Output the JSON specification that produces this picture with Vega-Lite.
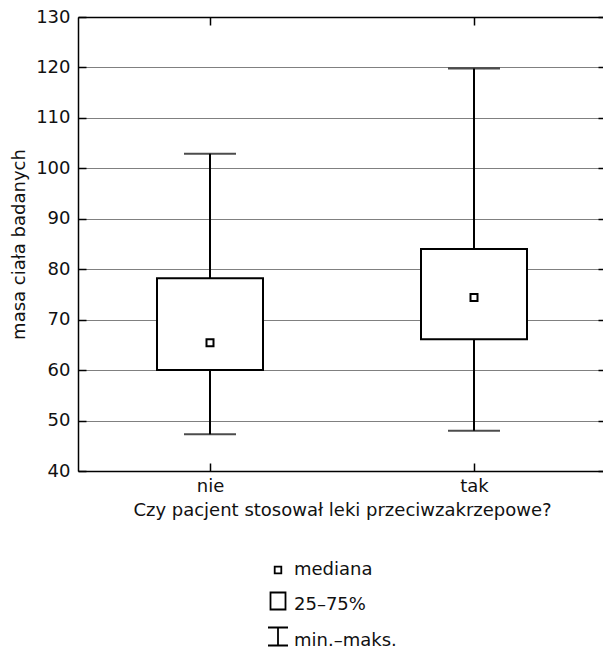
{
  "$schema": "https://vega.github.io/schema/vega-lite/v6.json",
  "width": 528,
  "height": 454,
  "autosize": {"type": "none"},
  "padding": {"left": 78, "top": 17, "right": -3, "bottom": 186},
  "background": "white",
  "config": {
    "view": {"stroke": null},
    "font": "DejaVu Sans",
    "axis": {
      "labelFont": "DejaVu Sans",
      "titleFont": "DejaVu Sans",
      "labelFontSize": 18,
      "titleFontSize": 18,
      "titleFontWeight": "normal",
      "labelColor": "#111",
      "titleColor": "#111",
      "domainColor": "black",
      "domainWidth": 1.5,
      "tickColor": "black",
      "tickWidth": 1.5,
      "gridColor": "#808080",
      "gridWidth": 1.2,
      "gridOpacity": 1
    },
    "legend": {
      "labelFont": "DejaVu Sans",
      "labelFontSize": 18,
      "labelColor": "#111"
    }
  },
  "datasets": {
    "boxes": [
      {"grupa": "nie", "min": 47.3, "q1": 60.0, "median": 65.4, "q3": 78.2, "max": 102.9},
      {"grupa": "tak", "min": 48.0, "q1": 66.1, "median": 74.4, "q3": 84.0, "max": 119.8}
    ],
    "legenda": [
      {"item": "mediana"},
      {"item": "25–75%"},
      {"item": "min.–maks."}
    ]
  },
  "resolve": {"axis": {"x": "independent", "y": "independent"}},
  "layer": [
    {
      "data": {"name": "boxes"},
      "mark": {"type": "rule", "color": "black", "strokeWidth": 2},
      "encoding": {
        "x": {
          "field": "grupa", "type": "nominal",
          "scale": {"type": "point", "domain": ["nie", "tak"], "padding": 0.5},
          "axis": {
            "orient": "bottom", "title": "Czy pacjent stosował leki przeciwzakrzepowe?",
            "labelAngle": 0, "tickSize": -8, "labelPadding": 14, "titlePadding": 6, "grid": false
          }
        },
        "y": {
          "field": "min", "type": "quantitative",
          "scale": {"domain": [40, 130], "nice": false, "zero": false},
          "axis": {
            "orient": "left", "title": "masa ciała badanych",
            "values": [40, 50, 60, 70, 80, 90, 100, 110, 120, 130],
            "tickSize": -8, "labelPadding": 16, "titlePadding": 7, "grid": true
          }
        },
        "y2": {"field": "max"}
      }
    },
    {
      "data": {"name": "boxes"},
      "mark": {"type": "bar", "fill": "white", "stroke": "black", "strokeWidth": 2, "size": 106},
      "encoding": {
        "x": {"field": "grupa", "type": "nominal", "axis": null},
        "y": {"field": "q1", "type": "quantitative", "axis": null},
        "y2": {"field": "q3"}
      }
    },
    {
      "data": {"name": "boxes"},
      "mark": {"type": "tick", "color": "black", "thickness": 2, "size": 52, "orient": "horizontal"},
      "encoding": {
        "x": {"field": "grupa", "type": "nominal", "axis": null},
        "y": {"field": "min", "type": "quantitative", "axis": null}
      }
    },
    {
      "data": {"name": "boxes"},
      "mark": {"type": "tick", "color": "black", "thickness": 2, "size": 52, "orient": "horizontal"},
      "encoding": {
        "x": {"field": "grupa", "type": "nominal", "axis": null},
        "y": {"field": "max", "type": "quantitative", "axis": null}
      }
    },
    {
      "data": {"name": "boxes"},
      "mark": {"type": "point", "shape": "square", "size": 49, "filled": false, "fill": "white", "fillOpacity": 1, "stroke": "black", "strokeWidth": 2, "opacity": 1},
      "encoding": {
        "x": {
          "field": "grupa", "type": "nominal",
          "axis": {"orient": "top", "title": null, "labels": false, "tickSize": -8, "grid": false}
        },
        "y": {
          "field": "median", "type": "quantitative",
          "axis": {"orient": "right", "title": null, "labels": false, "tickSize": -8, "grid": false,
                   "values": [40, 50, 60, 70, 80, 90, 100, 110, 120, 130]}
        }
      }
    },
    {
      "data": {"name": "legenda"},
      "mark": {"type": "point", "filled": false, "opacity": 0},
      "encoding": {
        "shape": {
          "field": "item", "type": "nominal",
          "scale": {
            "domain": ["mediana", "25–75%", "min.–maks."],
            "range": [
              "M-0.33,-0.33H0.33V0.33H-0.33Z",
              "M-0.75,-1.25H0.75V0.45H-0.75Z",
              "M-1,-1.35H1M0,-1.35V0.45M-1,0.45H1"
            ]
          },
          "legend": {
            "title": null,
            "orient": "none",
            "legendX": 189,
            "legendY": 542,
            "direction": "vertical",
            "symbolSize": 400,
            "symbolOpacity": 1,
            "symbolFillColor": "white",
            "symbolStrokeColor": "black",
            "symbolStrokeWidth": 1.8,
            "labelOffset": 5,
            "rowPadding": 9,
            "padding": 0
          }
        }
      }
    }
  ]
}
